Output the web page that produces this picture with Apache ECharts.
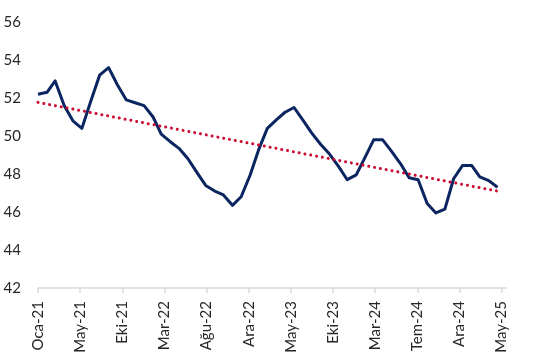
<!DOCTYPE html>
<html>
<head>
<meta charset="utf-8">
<script src="https://cdn.jsdelivr.net/npm/echarts@6/dist/echarts.min.js"></script>
<style>
html,body{margin:0;padding:0;background:#fff;}
#chart{width:535px;height:360px;}
</style>
</head>
<body>
<div id="chart"></div>
<script>
// Monthly observations (first day of month)
var months = [
  '2021-01','2021-02','2021-03','2021-04','2021-05','2021-06','2021-07','2021-08','2021-09','2021-10','2021-11','2021-12',
  '2022-01','2022-02','2022-03','2022-04','2022-05','2022-06','2022-07','2022-08','2022-09','2022-10','2022-11','2022-12',
  '2023-01','2023-02','2023-03','2023-04','2023-05','2023-06','2023-07','2023-08','2023-09','2023-10','2023-11','2023-12',
  '2024-01','2024-02','2024-03','2024-04','2024-05','2024-06','2024-07','2024-08','2024-09','2024-10','2024-11','2024-12',
  '2025-01','2025-02','2025-03','2025-04','2025-05'
];
var values = [
  52.2, 52.3, 52.9, 51.6, 50.8, 50.4, 51.8, 53.2, 53.6, 52.7, 51.9, 51.75,
  51.6, 51.0, 50.1, 49.7, 49.35, 48.8, 48.1, 47.4, 47.1, 46.9, 46.35, 46.8,
  47.95, 49.35, 50.4, 50.85, 51.25, 51.5, 50.85, 50.15, 49.55, 49.05, 48.4, 47.7,
  47.95, 48.9, 49.8, 49.8, 49.2, 48.55, 47.8, 47.7, 46.45, 45.95, 46.15, 47.75,
  48.45, 48.45, 47.85, 47.65, 47.3
];
// Linear trend line end values, at first and last month
var trendMonths = ['2021-01', '2025-05'];
var trendValues = [51.77, 47.1];
// X tick labels (date axis, one tick every 145 days starting 2021-01-01)
var tickLabels = ['Oca-21','May-21','Eki-21','Mar-22','Ağu-22','Ara-22','May-23','Eki-23','Mar-24','Tem-24','Ara-24','May-25'];
var tickStepDays = 145;
var axisMaxDays = 1612;
var yTicks = [42, 44, 46, 48, 50, 52, 54, 56];

var base = Date.UTC(2021, 0, 1);
function toDays(s) {
  var p = s.split('-');
  return (Date.UTC(+p[0], +p[1] - 1, 1) - base) / 86400000;
}
var lineData = months.map(function (m, i) { return [toDays(m), values[i]]; });
var trendData = trendMonths.map(function (m, i) { return [toDays(m), trendValues[i]]; });
var tickValues = tickLabels.map(function (_, i) { return i * tickStepDays; });

var chart = echarts.init(document.getElementById('chart'), null, {renderer: 'canvas'});
var font = 'Lato, "Open Sans", sans-serif';
chart.setOption({
  animation: false,
  backgroundColor: '#ffffff',
  grid: {left: 38, right: 28.5, top: 22, bottom: 72},
  xAxis: {
    type: 'value',
    min: 0,
    max: axisMaxDays,
    splitLine: {show: false},
    axisLine: {show: true, lineStyle: {color: '#d9d9d9', width: 1.5}},
    axisTick: {show: true, customValues: tickValues, length: 5, lineStyle: {color: '#d9d9d9', width: 1.5}},
    axisLabel: {
      customValues: tickValues,
      rotate: 90,
      margin: 13,
      color: '#262626',
      fontFamily: font,
      fontSize: 15,
      formatter: function (v) {
        var idx = Math.round(v / tickStepDays);
        return tickLabels[idx] || '';
      }
    }
  },
  yAxis: {
    type: 'value',
    min: yTicks[0],
    max: yTicks[yTicks.length - 1],
    interval: 2,
    splitLine: {show: false},
    axisLine: {show: false},
    axisTick: {show: false},
    axisLabel: {margin: 17, color: '#262626', fontFamily: font, fontSize: 15}
  },
  series: [
    {
      type: 'line',
      data: lineData,
      showSymbol: false,
      lineStyle: {color: '#0b2561', width: 3, join: 'round'},
      z: 2
    },
    {
      type: 'line',
      data: trendData,
      showSymbol: false,
      lineStyle: {color: '#cc0a2f', width: 3, type: [0.01, 5.9], cap: 'round'},
      z: 3
    }
  ]
});
</script>
</body>
</html>
